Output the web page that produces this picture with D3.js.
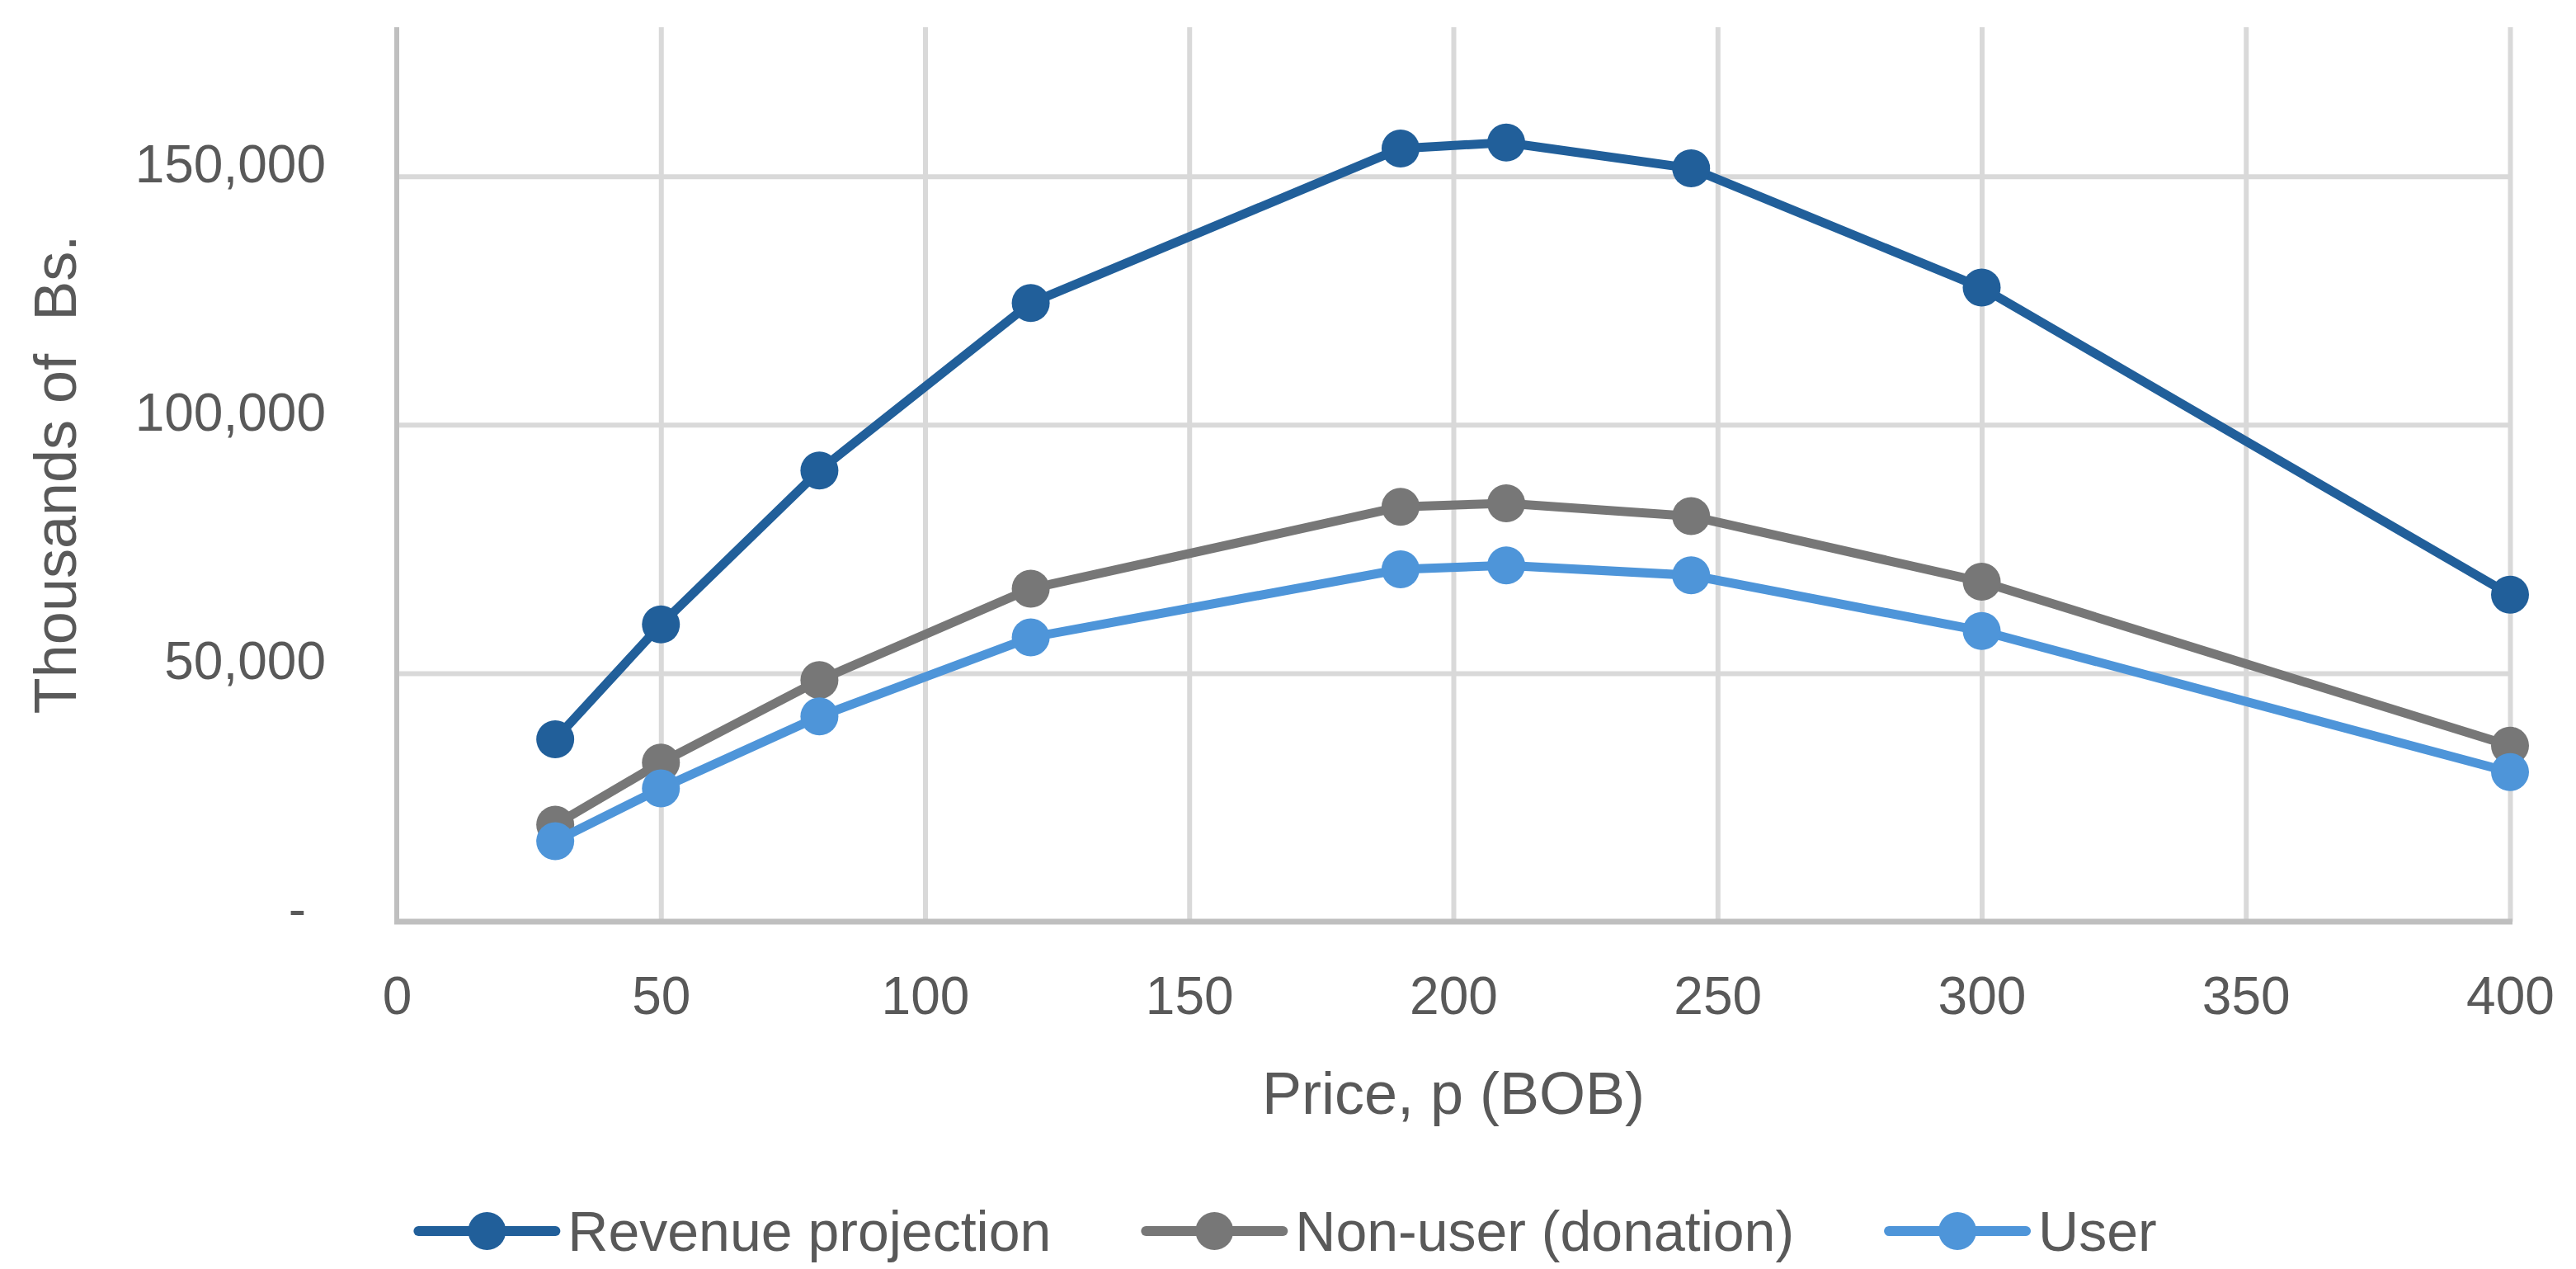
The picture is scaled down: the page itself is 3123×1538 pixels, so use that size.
<!DOCTYPE html>
<html>
<head>
<meta charset="utf-8">
<script src="https://cdn.jsdelivr.net/npm/d3@7"></script>
<style>
  body { margin: 0; background: #fff; }
  text { font-family: "Liberation Sans", Arial, sans-serif; fill: #595959; }
</style>
</head>
<body>
<svg width="3123" height="1538"></svg>
<script>
// prices on the x axis
var prices = [30, 50, 80, 120, 190, 210, 245, 300, 400];

// series values, thousands of Bs.
var revenue = [36700, 59800, 90800, 124500, 155600, 156800, 151600, 127600, 65800];
var nonUser = [19500, 32000, 48600, 67000, 83500, 84200, 81600, 68400, 35400];
var user = [16200, 26800, 41300, 57200, 70900, 71700, 69700, 58500, 30100];

var seriesNames = ["Revenue projection", "Non-user (donation)", "User"];
var seriesColors = ["#215F9A", "#777777", "#4E95D9"];

var xTicks = [0, 50, 100, 150, 200, 250, 300, 350, 400];
var yTicks = [0, 50000, 100000, 150000];

var svg = d3.select("svg"),
    margin = {top: 33, right: 80, bottom: 421, left: 481},
    width = svg.attr("width") - margin.left - margin.right,
    height = svg.attr("height") - margin.top - margin.bottom,
    g = svg.append("g").attr("transform", "translate(" + margin.left + "," + margin.top + ")");

var x = d3.scaleLinear().domain([0, 400]).range([0, width]),
    y = d3.scaleLinear().domain([0, 180000]).range([height, 0]);

var series = [revenue, nonUser, user].map(function(vals, i) {
  return {
    id: seriesNames[i],
    color: seriesColors[i],
    values: prices.map(function(p, j) { return {price: p, value: vals[j]}; })
  };
});

// gridlines
g.append("g")
    .attr("class", "grid grid--x")
    .call(d3.axisBottom(x).tickValues(xTicks.slice(1)).tickSize(height).tickFormat(""))
    .call(function(s) { s.select(".domain").remove(); })
    .selectAll("line")
    .attr("stroke", "#d9d9d9")
    .attr("stroke-width", 6);

g.append("g")
    .attr("class", "grid grid--y")
    .call(d3.axisLeft(y).tickValues(yTicks.slice(1)).tickSize(-width).tickFormat(""))
    .call(function(s) { s.select(".domain").remove(); })
    .selectAll("line")
    .attr("stroke", "#d9d9d9")
    .attr("stroke-width", 6);

// axis lines
g.append("line")
    .attr("x1", 0).attr("x2", 0)
    .attr("y1", 0).attr("y2", height + 3)
    .attr("stroke", "#bfbfbf")
    .attr("stroke-width", 6);

g.append("line")
    .attr("x1", -3).attr("x2", width + 3)
    .attr("y1", height).attr("y2", height)
    .attr("stroke", "#bfbfbf")
    .attr("stroke-width", 7);

// x tick labels
var xAxis = g.append("g")
    .attr("class", "axis axis--x")
    .attr("transform", "translate(0," + height + ")")
    .call(d3.axisBottom(x).tickValues(xTicks).tickSize(0).tickPadding(0));
xAxis.select(".domain").remove();
xAxis.selectAll("text")
    .attr("y", 112)
    .attr("dy", null)
    .style("font-size", "64px")
    .style("fill", "#595959");

// y tick labels
var yAxis = g.append("g")
    .attr("class", "axis axis--y")
    .call(d3.axisLeft(y).tickValues(yTicks).tickSize(0).tickPadding(0)
      .tickFormat(function(d) { return d === 0 ? "-" : d3.format(",")(d); }));
yAxis.select(".domain").remove();
yAxis.selectAll("text")
    .attr("x", function(d) { return d === 0 ? -110 : -86; })
    .attr("dy", "0.1em")
    .style("font-size", "64px")
    .style("fill", "#595959");

// axis titles
svg.append("text")
    .attr("x", margin.left + width / 2)
    .attr("y", 1350)
    .attr("text-anchor", "middle")
    .style("font-size", "72px")
    .text("Price, p (BOB)");

svg.append("text")
    .attr("transform", "translate(92," + (margin.top + height / 2) + ") rotate(-90)")
    .attr("text-anchor", "middle")
    .attr("xml:space", "preserve")
    .style("white-space", "pre")
    .style("font-size", "72px")
    .text("Thousands of  Bs.");

// series
var line = d3.line()
    .x(function(d) { return x(d.price); })
    .y(function(d) { return y(d.value); });

var s = g.selectAll(".series")
  .data(series)
  .enter().append("g")
    .attr("class", "series");

s.append("path")
    .attr("d", function(d) { return line(d.values); })
    .attr("fill", "none")
    .attr("stroke", function(d) { return d.color; })
    .attr("stroke-width", 11)
    .attr("stroke-linejoin", "round");

s.selectAll("circle")
  .data(function(d) { return d.values.map(function(v) { return {v: v, color: d.color}; }); })
  .enter().append("circle")
    .attr("cx", function(d) { return x(d.v.price); })
    .attr("cy", function(d) { return y(d.v.value); })
    .attr("r", 23)
    .attr("fill", function(d) { return d.color; });

// legend
var legend = svg.append("g").attr("class", "legend");
var item = legend.selectAll(".item")
  .data(series)
  .enter().append("g")
    .attr("class", "item");

item.append("line")
    .attr("x1", 0).attr("x2", 166)
    .attr("y1", 0).attr("y2", 0)
    .attr("stroke", function(d) { return d.color; })
    .attr("stroke-width", 12)
    .attr("stroke-linecap", "round");

item.append("circle")
    .attr("cx", 83).attr("cy", 0)
    .attr("r", 23)
    .attr("fill", function(d) { return d.color; });

item.append("text")
    .attr("x", 181)
    .attr("dy", "0.36em")
    .style("font-size", "68px")
    .text(function(d) { return d.id; });

var widths = [];
item.each(function() { widths.push(181 + d3.select(this).select("text").node().getComputedTextLength()); });
var gap = 115;
var total = d3.sum(widths) + gap * (widths.length - 1);
var start = 1561 - total / 2, acc = start;
item.attr("transform", function(d, i) {
  var t = "translate(" + acc + ",1492)";
  acc += widths[i] + gap;
  return t;
});
</script>
</body>
</html>
